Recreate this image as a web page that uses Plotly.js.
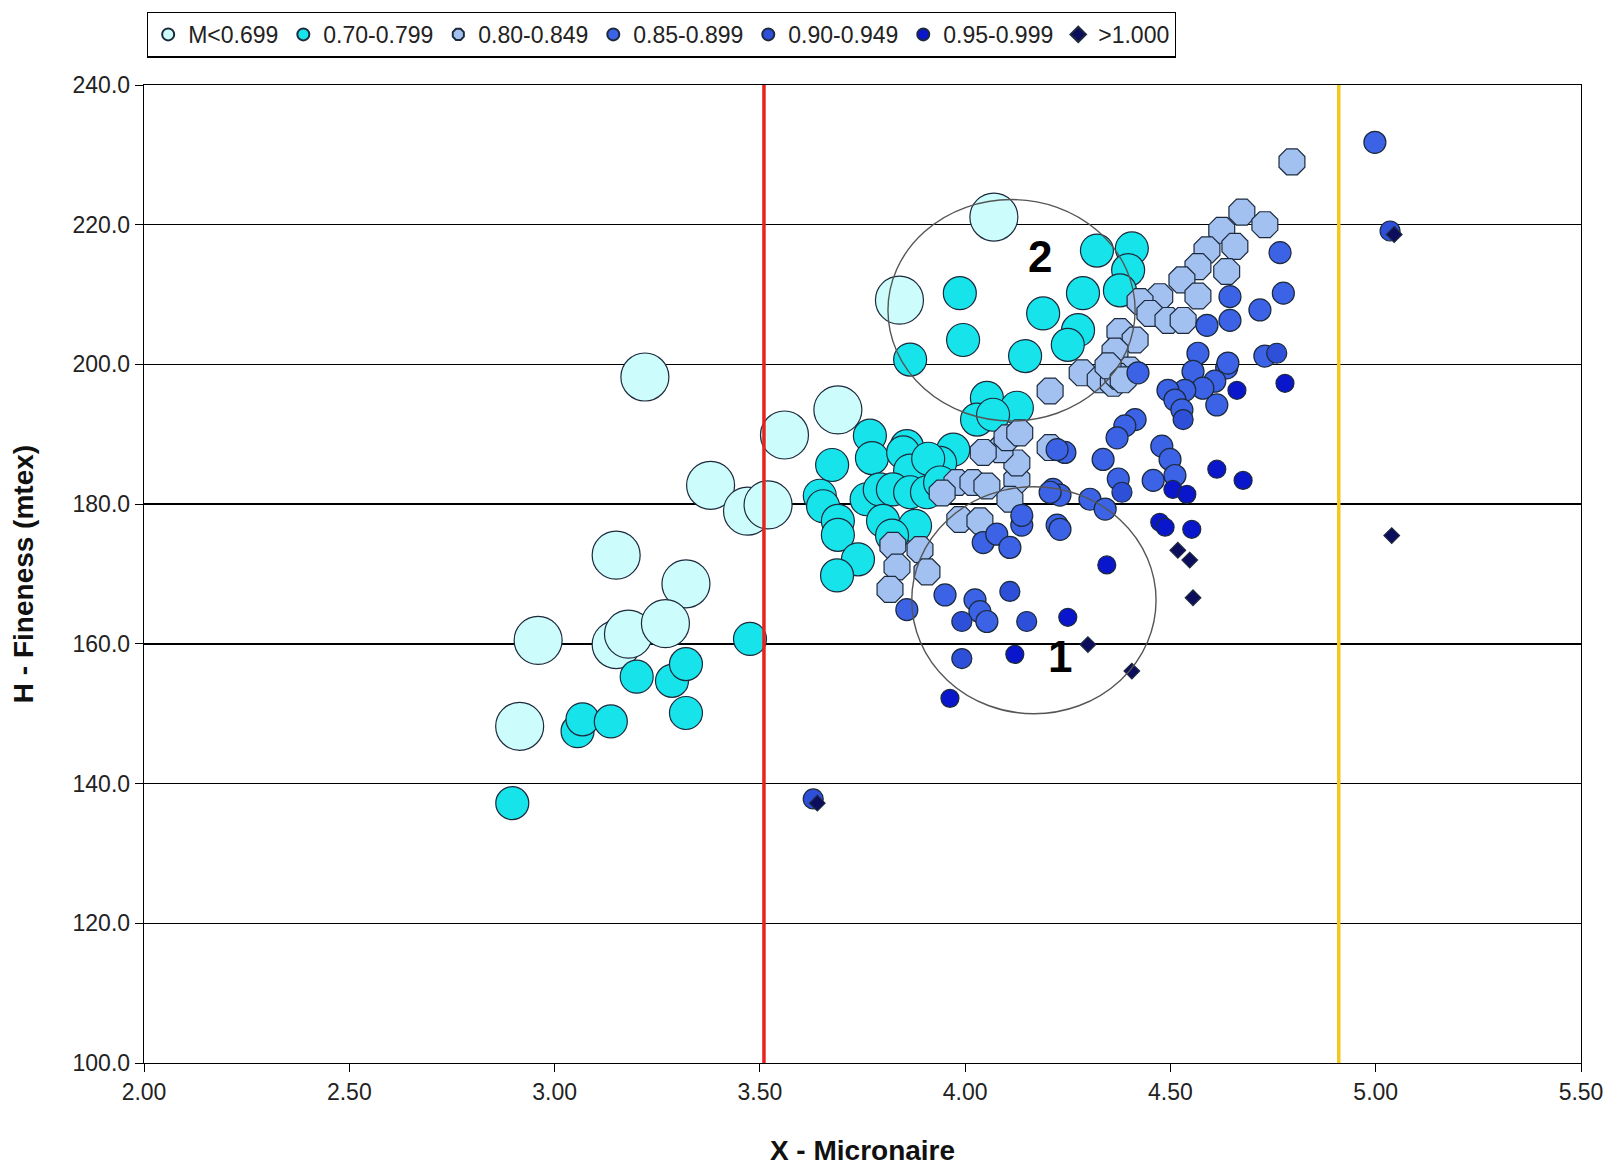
<!DOCTYPE html>
<html>
<head>
<meta charset="utf-8">
<script src="https://cdn.plot.ly/plotly-3.0.1.min.js"></script>
<style>
html,body{margin:0;padding:0;background:#fff;}
#chart{width:1614px;height:1172px;}
</style>
</head>
<body>
<div id="chart"></div>
<script>
// ---- data ----
const seriesNames = ["M<0.699","0.70-0.799","0.80-0.849","0.85-0.899","0.90-0.949","0.95-0.999",">1.000"];

const s1x = [3.22,3.69,3.56,3.38,3.47,3.52,3.15,3.32,2.96,3.15,3.18,3.27,2.915,4.07,3.84];
const s1y = [198.2,193.5,189.9,182.7,179.0,179.9,172.7,168.6,160.5,159.9,161.4,162.9,148.2,221.1,209.2];

const s2x = [2.897,3.056,3.068,3.137,3.20,3.286,3.32,3.32,3.476,
  3.768,3.773,3.676,3.646,3.654,3.690,3.690,3.739,3.688,3.858,3.849,3.971,3.866,3.939,3.91,
  3.760,3.792,3.824,3.866,3.907,3.939,3.800,3.878,3.822,4.053,4.126,4.029,4.068,
  4.321,4.406,4.397,4.377,4.287,4.190,4.275,4.250,4.146,3.987,3.995,3.866];
const s2y = [137.2,147.5,149.2,148.9,155.3,154.7,157.1,150.1,160.7,
  189.8,186.6,185.6,181.2,179.7,177.6,175.6,172.1,169.8,188.3,187.4,187.8,184.8,185.9,186.5,
  180.7,182.1,182.1,181.7,181.7,183.1,177.6,176.9,175.5,195.2,193.8,192.1,192.8,
  216.3,216.6,213.5,210.6,210.2,207.3,204.9,202.8,201.2,210.2,203.5,200.7];

const s3x = [3.824,3.890,3.834,3.907,3.817,3.980,4.019,4.053,3.987,4.036,4.126,4.126,4.085,4.102,4.133,4.044,4.109,4.207,4.207,3.944,
  4.674,4.730,4.625,4.657,4.589,4.567,4.637,4.528,4.567,4.474,4.426,4.450,4.494,4.531,4.377,4.414,4.365,4.285,4.329,4.361,4.401,4.372,4.348,4.385,4.796];
const s3y = [174.1,173.5,171.0,170.3,167.8,183.1,183.1,182.6,177.8,177.6,183.5,185.9,187.8,189.5,190.2,187.4,180.7,188.1,196.2,181.6,
  221.8,220.0,219.2,216.9,216.4,214.0,213.3,212.1,209.8,209.7,209.0,207.3,206.3,206.3,204.7,203.5,201.9,198.8,197.8,197.3,199.2,198.3,199.8,197.8,229.0];

const s4x = [3.858,3.951,4.024,4.036,4.053,4.044,4.077,4.109,4.138,4.138,4.214,4.224,
  4.567,4.555,4.637,4.608,4.579,4.535,4.494,4.511,4.528,4.613,4.414,4.389,4.370,4.336,4.243,4.224,4.479,4.499,4.511,4.458,4.373,4.304,4.341,4.231,4.207,4.231,4.421,
  4.767,4.775,4.645,4.645,4.718,4.589,4.73,4.64,4.998];
const s4y = [164.9,167.0,166.3,164.6,163.2,174.5,175.7,173.8,177.0,178.4,182.1,177.0,
  201.6,199.0,199.5,197.6,196.6,196.3,196.3,194.9,193.5,194.2,192.1,191.2,189.5,186.4,187.4,187.8,188.3,186.4,184.1,183.4,183.6,180.7,179.3,181.3,181.7,176.4,198.8,
  216.0,210.2,209.7,206.3,207.8,205.6,201.2,200.2,231.8];

const s5x = [4.759,4.531,4.382,3.63,5.035,4.109,4.150,3.992,3.992];
const s5y = [201.6,192.1,181.7,137.8,219.1,167.5,163.2,163.2,157.9];

const s6x = [4.250,4.121,3.963,4.345,4.474,4.487,4.552,4.779,4.662,4.613,4.677,4.506,4.540];
const s6y = [163.8,158.5,152.2,171.3,177.4,176.7,176.4,197.3,196.3,185.0,183.4,182.1,181.4];

const s7x = [4.299,4.406,4.518,4.547,4.555,5.039,5.045,3.64];
const s7y = [159.9,156.1,173.4,172.0,166.6,175.5,218.6,137.2];

const xTickVals = [2.0,2.5,3.0,3.5,4.0,4.5,5.0,5.5];
const yTickVals = [100,120,140,160,180,200,220,240];
const redLineX = 3.51, yellowLineX = 4.91;

// ---- styles ----
const edge = "#1c2a3c";
const styles = [
  {c:"#CCFCFC", s:48, sym:"circle"},
  {c:"#16E3EA", s:33, sym:"circle"},
  {c:"#A2C0F0", s:28, sym:"octagon"},
  {c:"#3C63E6", s:22, sym:"circle"},
  {c:"#2E50D8", s:20, sym:"circle"},
  {c:"#0A16CC", s:18, sym:"circle"},
  {c:"#0D0D5E", s:12, sym:"diamond"}
];
const xs = [s1x,s2x,s3x,s4x,s5x,s6x,s7x];
const ys = [s1y,s2y,s3y,s4y,s5y,s6y,s7y];

const traces = xs.map((x,i)=>({
  type:"scatter", mode:"markers", name:seriesNames[i],
  x:x, y:ys[i],
  marker:{color:styles[i].c, size:styles[i].s, symbol:styles[i].sym,
          line:{color:edge, width:1.2}},
  hoverinfo:"x+y"
}));

const font = "Liberation Sans, Arial, sans-serif";

const layout = {
  width:1614, height:1172,
  margin:{l:144, r:33, t:81, b:109},
  paper_bgcolor:"#ffffff", plot_bgcolor:"#ffffff",
  font:{family:font, size:22, color:"#222"},
  showlegend:true,
  legend:{orientation:"h", x:0.002, xanchor:"left", y:1.075, yanchor:"top",
          bordercolor:"#000", borderwidth:1.3, bgcolor:"#fff",
          font:{family:font, size:23, color:"#222"}, itemsizing:"constant",
          itemwidth:30, tracegroupgap:0},
  xaxis:{range:[2.0,5.5], tickvals:xTickVals, tickformat:".2f",
         showgrid:false, zeroline:false, showline:true, linecolor:"#000", linewidth:1.3,
         mirror:true, ticks:"outside", ticklen:8, tickcolor:"#000",
         tickfont:{family:font, size:23, color:"#222"},
         title:{text:"<b>X - Micronaire</b>", font:{family:font, size:28, color:"#111"}, standoff:36}},
  yaxis:{range:[100,240], tickvals:yTickVals, tickformat:".1f",
         showgrid:true, gridcolor:"#000", gridwidth:1.3, zeroline:false,
         showline:true, linecolor:"#000", linewidth:1.3, mirror:true,
         ticks:"outside", ticklen:8, tickcolor:"#000",
         tickfont:{family:font, size:23, color:"#222"},
         title:{text:"<b>H - Fineness (mtex)</b>", font:{family:font, size:28, color:"#111"}, standoff:30}},
  shapes:[
    {type:"line", xref:"x", yref:"paper", x0:redLineX, x1:redLineX, y0:0, y1:1,
     line:{color:"#E8231E", width:3.5}},
    {type:"line", xref:"x", yref:"paper", x0:yellowLineX, x1:yellowLineX, y0:0, y1:1,
     line:{color:"#F2C81E", width:3.5}},
    {type:"circle", xref:"x", yref:"y", x0:3.87, x1:4.465, y0:150.0, y1:182.5,
     line:{color:"#555", width:1.4}},
    {type:"circle", xref:"x", yref:"y", x0:3.812, x1:4.414, y0:191.9, y1:223.6,
     line:{color:"#555", width:1.4}}
  ],
  annotations:[
    {x:4.231, y:158.2, xref:"x", yref:"y", text:"<b>1</b>", showarrow:false,
     font:{family:font, size:44, color:"#000"}},
    {x:4.182, y:215.4, xref:"x", yref:"y", text:"<b>2</b>", showarrow:false,
     font:{family:font, size:44, color:"#000"}}
  ]
};

Plotly.newPlot("chart", traces, layout, {displayModeBar:false, staticPlot:true});
</script>
</body>
</html>
